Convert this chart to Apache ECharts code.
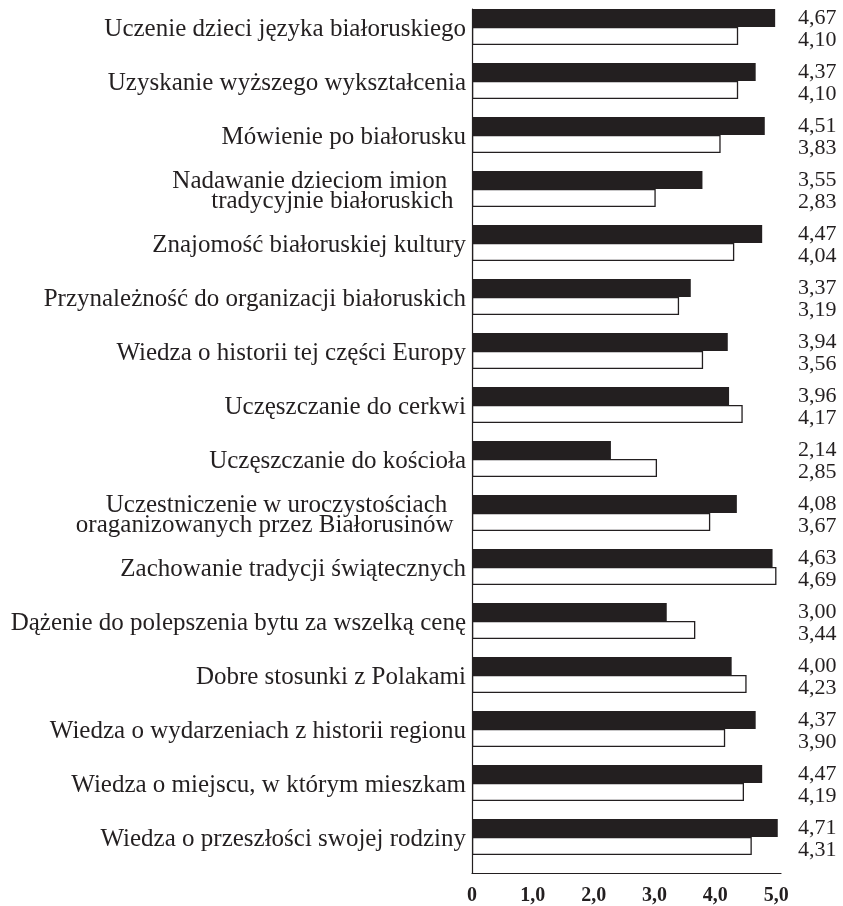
<!DOCTYPE html>
<html>
<head>
<meta charset="utf-8">
<script src="https://cdn.jsdelivr.net/npm/echarts@6/dist/echarts.min.js"></script>
<style>
html,body{margin:0;padding:0;background:#fff;}
#c{width:843px;height:906px;}
</style>
</head>
<body>
<div id="c"></div>
<script>
const categories = [
  "Uczenie dzieci języka białoruskiego",
  "Uzyskanie wyższego wykształcenia",
  "Mówienie po białorusku",
  "Nadawanie dzieciom imion   \ntradycyjnie białoruskich  ",
  "Znajomość białoruskiej kultury",
  "Przynależność do organizacji białoruskich",
  "Wiedza o historii tej części Europy",
  "Uczęszczanie do cerkwi",
  "Uczęszczanie do kościoła",
  "Uczestniczenie w uroczystościach   \noraganizowanych przez Białorusinów  ",
  "Zachowanie tradycji świątecznych",
  "Dążenie do polepszenia bytu za wszelką cenę",
  "Dobre stosunki z Polakami",
  "Wiedza o wydarzeniach z historii regionu",
  "Wiedza o miejscu, w którym mieszkam",
  "Wiedza o przeszłości swojej rodziny"
];
const seriesBlack = [4.67, 4.37, 4.51, 3.55, 4.47, 3.37, 3.94, 3.96, 2.14, 4.08, 4.63, 3.00, 4.00, 4.37, 4.47, 4.71];
const seriesWhite = [4.10, 4.10, 3.83, 2.83, 4.04, 3.19, 3.56, 4.17, 2.85, 3.67, 4.69, 3.44, 4.23, 3.90, 4.19, 4.31];
const tickLabels = [0, 1, 2, 3, 4, 5];

const fmt = v => v.toFixed(2).replace('.', ',');
const ink = '#231f20';
const serif = '"Liberation Serif", "DejaVu Serif", serif';
// each label block gets an empty spacer line below so the text sits level with the bar pair
const lift = lines => lines.map(l => '{a|' + l + '}').join('\n') + '\n{s| }';

const chart = echarts.init(document.getElementById('c'), null, {renderer: 'canvas'});
chart.setOption({
  animation: false,
  backgroundColor: '#fff',
  grid: {left: 472, right: 62, top: 9, bottom: 28, containLabel: false},
  xAxis: [
    {type: 'value', min: 0, max: 4.76, show: false},
    {
      type: 'value', position: 'bottom', min: 0, max: 5.08, interval: 1,
      axisLine: {show: true, lineStyle: {color: ink, width: 1.2}},
      axisTick: {show: false},
      splitLine: {show: false},
      axisLabel: {
        color: ink, fontFamily: serif, fontWeight: 'bold', fontSize: 20, margin: 13,
        formatter: v => {
          if (tickLabels.indexOf(v) < 0) return '';
          return v === 0 ? '0' : v.toFixed(1).replace('.', ',');
        }
      }
    }
  ],
  yAxis: [
    {
      type: 'category', data: categories, inverse: true, position: 'left',
      axisLine: {show: true, lineStyle: {color: ink, width: 1.2}},
      axisTick: {show: false},
      axisLabel: {margin: 6, interval: 0, showMinLabel: true, showMaxLabel: true, align: 'right',
        formatter: v => lift(v.split('\n')),
        rich: {
          a: {color: ink, fontFamily: serif, fontSize: 25, lineHeight: 20},
          s: {fontSize: 4, lineHeight: 13}
        }}
    },
    {
      type: 'category', data: categories.map((c, i) => i), inverse: true, position: 'right',
      axisLine: {show: false}, axisTick: {show: false},
      axisLabel: {margin: 17, interval: 0, showMinLabel: true, showMaxLabel: true, hideOverlap: false,
        align: 'left',
        formatter: (v, i) => lift([fmt(seriesBlack[i]), fmt(seriesWhite[i])]),
        rich: {
          a: {color: ink, fontFamily: serif, fontSize: 22, lineHeight: 22},
          s: {fontSize: 4, lineHeight: 13}
        }}
    }
  ],
  series: [
    {type: 'bar', name: 'A', data: seriesBlack, xAxisIndex: 0, yAxisIndex: 0,
      barGap: '0%', barCategoryGap: '0%', itemStyle: {color: ink}, silent: true},
    {type: 'bar', name: 'B', data: seriesWhite, xAxisIndex: 0, yAxisIndex: 0,
      barGap: '0%', barCategoryGap: '0%',
      itemStyle: {color: '#fff', borderColor: ink, borderWidth: 1.3}, silent: true},
    {type: 'bar', name: 'spacer', data: [], xAxisIndex: 0, yAxisIndex: 0,
      barGap: '0%', barCategoryGap: '0%', itemStyle: {color: 'rgba(0,0,0,0)'}, silent: true}
  ]
});
</script>
</body>
</html>
